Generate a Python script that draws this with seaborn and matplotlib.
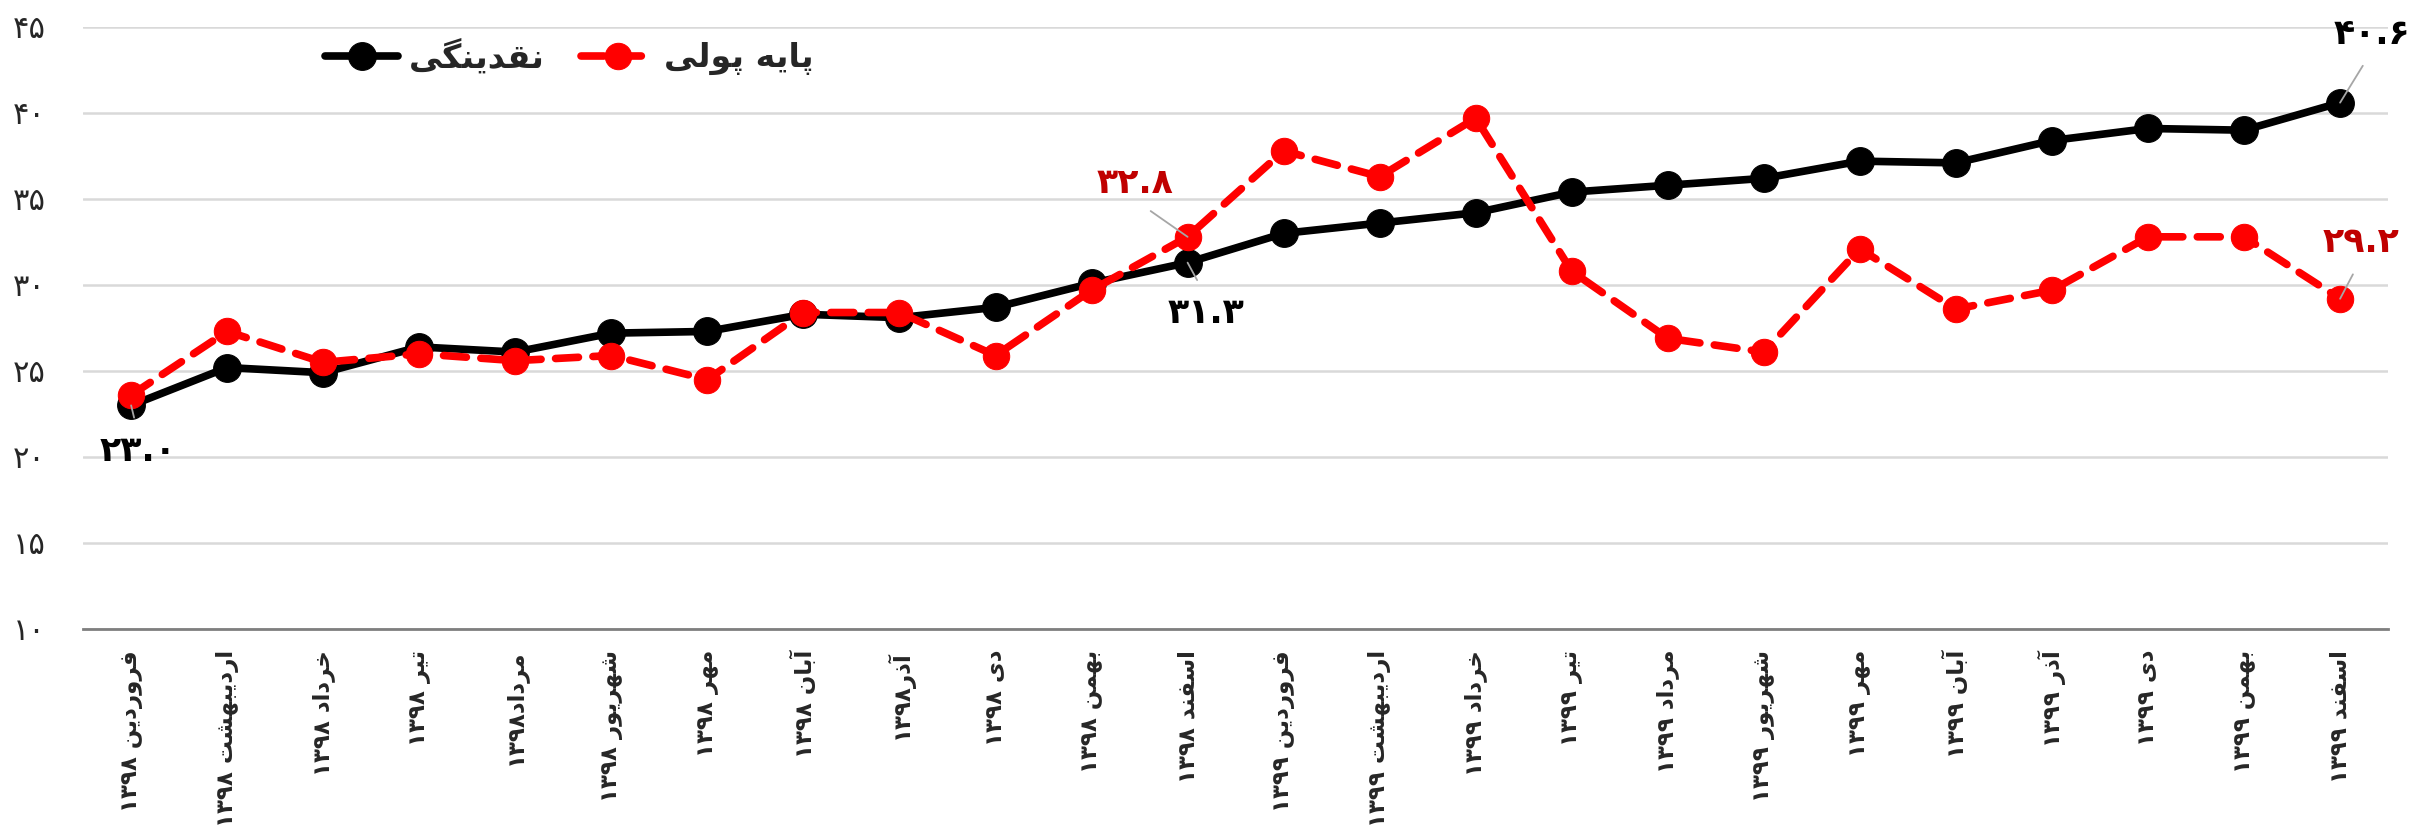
import re

import matplotlib
matplotlib.use("Agg")
import matplotlib.pyplot as plt
import numpy as np
import pandas as pd
import seaborn as sns
from matplotlib.ticker import FixedLocator

# ---------------------------------------------------------
# Data
# ---------------------------------------------------------
months = [
    "فروردین ۱۳۹۸", "اردیبهشت ۱۳۹۸", "خرداد ۱۳۹۸", "تیر ۱۳۹۸",
    "مرداد۱۳۹۸", "شهریور ۱۳۹۸", "مهر ۱۳۹۸", "آبان ۱۳۹۸",
    "آذر۱۳۹۸", "دی ۱۳۹۸", "بهمن ۱۳۹۸", "اسفند ۱۳۹۸",
    "فروردین ۱۳۹۹", "اردیبهشت ۱۳۹۹", "خرداد ۱۳۹۹", "تیر ۱۳۹۹",
    "مرداد ۱۳۹۹", "شهریور ۱۳۹۹", "مهر ۱۳۹۹", "آبان ۱۳۹۹",
    "آذر ۱۳۹۹", "دی ۱۳۹۹", "بهمن ۱۳۹۹", "اسفند ۱۳۹۹",
]
liquidity = [23.0, 25.2, 24.9, 26.4, 26.1, 27.2, 27.3, 28.3, 28.1, 28.7, 30.1, 31.3,
             33.0, 33.6, 34.2, 35.4, 35.8, 36.2, 37.2, 37.1, 38.4, 39.1, 39.0, 40.6]
monetary_base = [23.6, 27.3, 25.5, 26.0, 25.6, 25.9, 24.5, 28.4, 28.4, 25.9, 29.7, 32.8,
                 37.8, 36.3, 39.7, 30.8, 26.9, 26.1, 32.1, 28.6, 29.7, 32.8, 32.8, 29.2]
y_ticks = [10, 15, 20, 25, 30, 35, 40, 45]
series_names = ["نقدینگی", "پایه پولی"]

# ---------------------------------------------------------
# Minimal Persian shaping (matplotlib has no bidi / joining)
# ---------------------------------------------------------
FORMS = {
    "ا": ("\ufe8d", "\ufe8e", None, None),
    "آ": ("\ufe81", "\ufe82", None, None),
    "ب": ("\ufe8f", "\ufe90", "\ufe91", "\ufe92"),
    "پ": ("\ufb56", "\ufb57", "\ufb58", "\ufb59"),
    "ت": ("\ufe95", "\ufe96", "\ufe97", "\ufe98"),
    "خ": ("\ufea5", "\ufea6", "\ufea7", "\ufea8"),
    "د": ("\ufea9", "\ufeaa", None, None),
    "ذ": ("\ufeab", "\ufeac", None, None),
    "ر": ("\ufead", "\ufeae", None, None),
    "ز": ("\ufeaf", "\ufeb0", None, None),
    "س": ("\ufeb1", "\ufeb2", "\ufeb3", "\ufeb4"),
    "ش": ("\ufeb5", "\ufeb6", "\ufeb7", "\ufeb8"),
    "ف": ("\ufed1", "\ufed2", "\ufed3", "\ufed4"),
    "ق": ("\ufed5", "\ufed6", "\ufed7", "\ufed8"),
    "گ": ("\ufb92", "\ufb93", "\ufb94", "\ufb95"),
    "ل": ("\ufedd", "\ufede", "\ufedf", "\ufee0"),
    "م": ("\ufee1", "\ufee2", "\ufee3", "\ufee4"),
    "ن": ("\ufee5", "\ufee6", "\ufee7", "\ufee8"),
    "ه": ("\ufee9", "\ufeea", "\ufeeb", "\ufeec"),
    "و": ("\ufeed", "\ufeee", None, None),
    "ی": ("\ufbfc", "\ufbfd", "\ufbfe", "\ufbff"),
}
RIGHT_ONLY = set("اآدذرزو")
FA_DIGITS = "۰۱۲۳۴۵۶۷۸۹"


def fa_num(s):
    return str(s).translate(str.maketrans("0123456789", FA_DIGITS))


def shape_fa(text):
    out = []
    for k, ch in enumerate(text):
        if ch not in FORMS:
            out.append(ch)
            continue
        prev = text[k - 1] if k > 0 else ""
        nxt = text[k + 1] if k + 1 < len(text) else ""
        join_prev = prev in FORMS and prev not in RIGHT_ONLY
        join_next = ch not in RIGHT_ONLY and nxt in FORMS
        iso, fin, ini, med = FORMS[ch]
        if join_prev and join_next:
            out.append(med)
        elif join_prev:
            out.append(fin)
        elif join_next:
            out.append(ini)
        else:
            out.append(iso)
    runs = re.findall(r"[۰-۹.]+|[^۰-۹.]+", "".join(out))
    return "".join(r if r[0] in FA_DIGITS + "." else r[::-1] for r in reversed(runs))


# ---------------------------------------------------------
# Figure
# ---------------------------------------------------------
sns.set_style("white")
plt.rcParams["font.family"] = ["DejaVu Sans"]

fig = plt.figure(figsize=(24.23, 8.33), dpi=100)
ax = fig.add_axes([0.0343, 0.2449, 0.9513, 0.7227])

df = pd.DataFrame({"pos": np.arange(len(months)), "liq": liquidity, "base": monetary_base})

sns.lineplot(data=df, x="pos", y="liq", ax=ax, color="black", linewidth=5.5,
             marker="o", markersize=20, markeredgecolor="black",
             label=shape_fa(series_names[0]), zorder=3)
sns.lineplot(data=df, x="pos", y="base", ax=ax, color="#ff0000", linewidth=5.5,
             linestyle=(0, (3.0, 1.9)), dash_capstyle="round",
             marker="o", markersize=19, markeredgecolor="#ff0000",
             label=shape_fa(series_names[1]), zorder=4)

ax.set_xlim(-0.5, len(months) - 0.5)
ax.set_ylim(y_ticks[0], y_ticks[-1])
ax.set_xlabel("")
ax.set_ylabel("")

# y axis: Persian digits, light grid
ax.set_yticks(y_ticks)
ax.set_yticklabels([fa_num(t) for t in y_ticks], fontsize=22)
ax.yaxis.grid(True, color="#d9d9d9", linewidth=1.8, zorder=0)
ax.set_axisbelow(True)
ax.tick_params(axis="y", length=0, pad=27)

# x axis: labels at centres, tick marks at boundaries
ax.set_xticks(np.arange(len(months)))
ax.set_xticklabels([shape_fa(m) for m in months], rotation=90, fontsize=16.5,
                   fontweight="bold", va="top", ha="center")
ax.tick_params(axis="x", which="major", length=0, pad=15)
ax.xaxis.set_minor_locator(FixedLocator(np.arange(len(months) + 1) - 0.5))
ax.tick_params(axis="x", which="minor", length=8, width=1.2, color="#404040")

for side in ["left", "right", "top"]:
    ax.spines[side].set_visible(False)
ax.spines["bottom"].set_color("#7f7f7f")
ax.spines["bottom"].set_linewidth(2)

# data labels with grey leader lines
labels = [
    (0, liquidity[0], "black", (7, -46), (0.5, 1.0)),
    (11, liquidity[11], "black", (18, -50), (0.5, 1.0)),
    (11, monetary_base[11], "#c00000", (-53, 54), (0.5, 0.0)),
    (23, liquidity[23], "black", (32, 69), (0.5, 0.0)),
    (23, monetary_base[23], "#c00000", (21, 57), (0.5, 0.0)),
]
for xi, val, col, off, rel in labels:
    ax.annotate(fa_num(f"{val:.1f}"), xy=(xi, val), xytext=off,
                textcoords="offset pixels", ha="center", va="center",
                fontsize=25, fontweight="bold", color=col, zorder=6,
                arrowprops=dict(arrowstyle="-", color="#a6a6a6", lw=1.3,
                                relpos=rel, shrinkA=10, shrinkB=0))

leg = ax.legend(loc="center", bbox_to_anchor=(0.211, 0.95), ncol=2, frameon=False,
                prop={"size": 24, "weight": "bold"}, handlelength=2.2,
                handletextpad=0.3, columnspacing=1.1)

fig.savefig("out.png", dpi=100)
